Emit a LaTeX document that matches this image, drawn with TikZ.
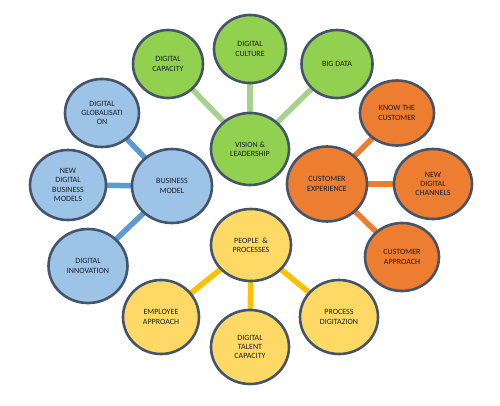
\documentclass[tikz,border=0pt]{standalone}
\usepackage{fontspec}
\setmainfont{Carlito}
\usetikzlibrary{shapes.geometric,backgrounds}
\definecolor{gfill}{HTML}{92D050}
\definecolor{gline}{HTML}{A9D18E}
\definecolor{bfill}{HTML}{9DC3E6}
\definecolor{bline}{HTML}{5B9BD5}
\definecolor{ofill}{HTML}{ED7D31}
\definecolor{oline}{HTML}{ED7D31}
\definecolor{yfill}{HTML}{FFD966}
\definecolor{yline}{HTML}{FFC000}
\definecolor{rim}{HTML}{44546A}
\definecolor{txt}{HTML}{1A1F2A}
\tikzset{
  bub/.style n args={3}{ellipse, draw=rim, line width=2.6pt, fill=#1,
     minimum width=#2pt, minimum height=#3pt, inner sep=0pt, align=center,
     text=txt, font=\fontsize{8}{9.4}\selectfont},
  link/.style={line width=5.5pt, draw=#1},
}
\begin{document}
\begin{tikzpicture}[x=1pt,y=-1pt]
\useasboundingbox (0,0) rectangle (500,405);
% green
\node[bub={gfill}{78}{72}] (vis) at (250,149) {VISION \&\\LEADERSHIP};
\node[bub={gfill}{70}{68}] (dcap) at (168,64) {DIGITAL\\CAPACITY};
\node[bub={gfill}{72}{68}] (dcul) at (250,49) {DIGITAL\\CULTURE};
\node[bub={gfill}{71}{68}] (big) at (337,64) {BIG DATA};
% blue
\node[bub={bfill}{80}{74}] (bm) at (172,186) {BUSINESS\\MODEL};
\node[bub={bfill}{74}{68}] (glob) at (102,113) {DIGITAL\\GLOBALISATI\\ON};
\node[bub={bfill}{76}{70}] (ndbm) at (68,185) {NEW\\DIGITAL\\BUSINESS\\MODELS};
\node[bub={bfill}{79}{74}] (inn) at (88,266) {DIGITAL\\INNOVATION};
% orange
\node[bub={ofill}{80}{75}] (cx) at (327,184) {CUSTOMER\\EXPERIENCE};
\node[bub={ofill}{74}{65}] (know) at (397,113) {KNOW THE\\CUSTOMER};
\node[bub={ofill}{78}{70}] (ndc) at (433,184) {NEW\\DIGITAL\\CHANNELS};
\node[bub={ofill}{74}{68}] (capp) at (402,257) {CUSTOMER\\APPROACH};
% yellow
\node[bub={yfill}{80}{72}] (pp) at (251,245) {PEOPLE \ \&\\PROCESSES};
\node[bub={yfill}{76}{74}] (emp) at (161,317) {EMPLOYEE\\APPROACH};
\node[bub={yfill}{78}{74}] (tal) at (250,347) {DIGITAL\\TALENT\\CAPACITY};
\node[bub={yfill}{78}{74}] (proc) at (339,317) {PROCESS\\DIGITAZION};
\begin{scope}[on background layer]
\draw[link=gline] (vis.center) -- (dcap.center);
\draw[link=gline] (vis.center) -- (dcul.center);
\draw[link=gline] (vis.center) -- (big.center);
\draw[link=bline] (bm.center) -- (glob.center);
\draw[link=bline] (bm.center) -- (ndbm.center);
\draw[link=bline] (bm.center) -- (inn.center);
\draw[link=oline] (cx.center) -- (know.center);
\draw[link=oline] (cx.center) -- (ndc.center);
\draw[link=oline] (cx.center) -- (capp.center);
\draw[link=yline] (pp.center) -- (emp.center);
\draw[link=yline] (pp.center) -- (tal.center);
\draw[link=yline] (pp.center) -- (proc.center);
\end{scope}
\end{tikzpicture}
\end{document}
